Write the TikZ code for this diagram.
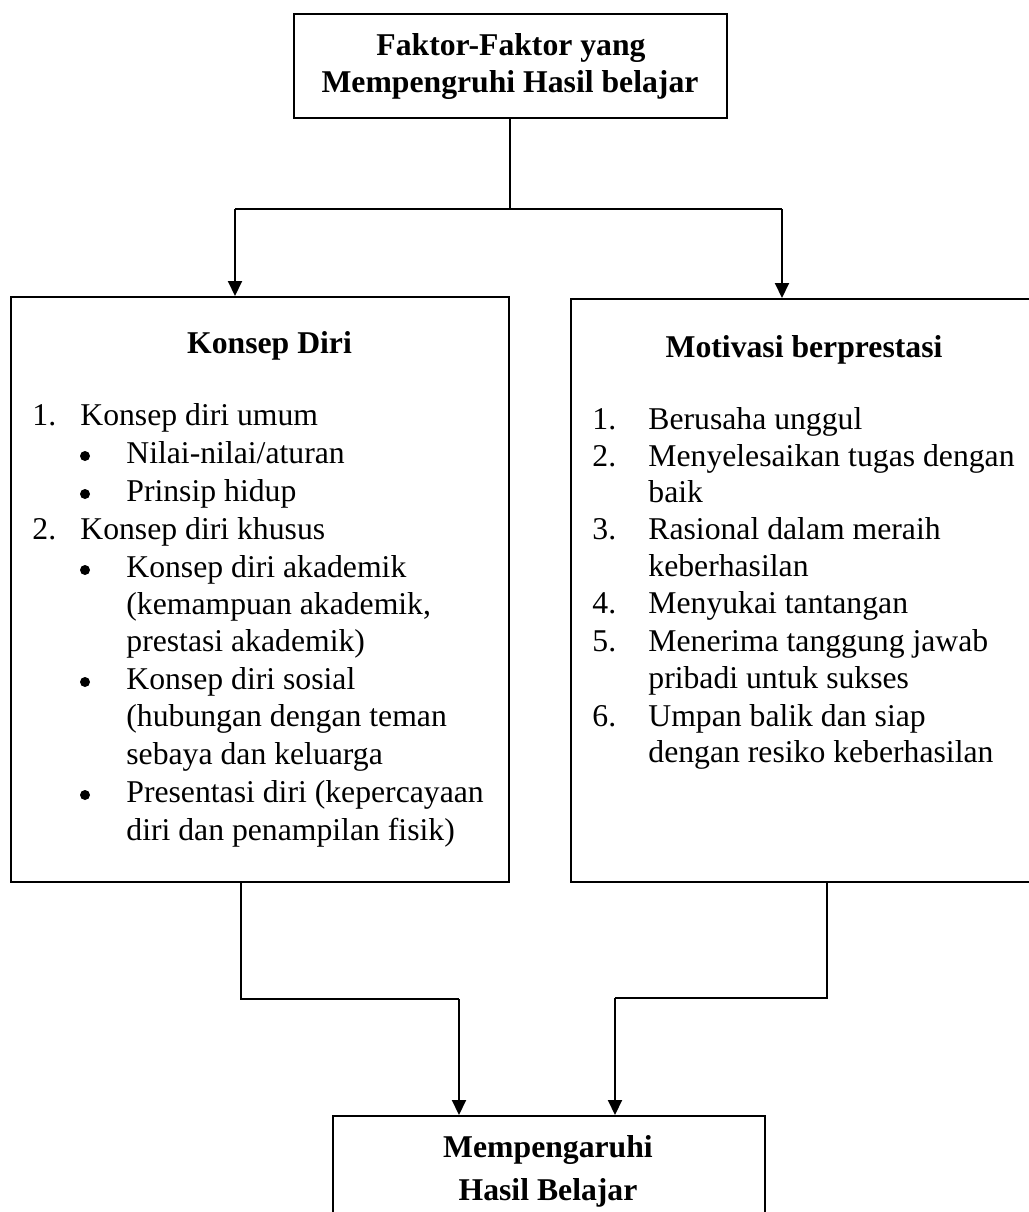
\documentclass[tikz,border=0pt]{standalone}
\usepackage{fontspec}
\setmainfont{Liberation Serif}
\usetikzlibrary{arrows.meta}
\begin{document}
\begin{tikzpicture}[x=0.5pt,y=-0.5pt,
  box/.style={draw,line width=1pt,rectangle,inner sep=0pt},
  line/.style={line width=1pt},
  arr/.style={line width=1pt,-{Triangle[length=7.5pt,width=7pt]}},
  txt/.style={inner sep=0pt,anchor=base west,font=\fontsize{15.85}{18}\selectfont},
  ttl/.style={inner sep=0pt,anchor=base,font=\fontsize{15.85}{18}\selectfont\bfseries},
  bul/.style={circle,fill,inner sep=0pt,minimum size=5pt}]
\useasboundingbox (0,0) rectangle (1029,1212);
\clip (0,0) rectangle (1029,1212);
\fill[white] (0,0) rectangle (1029,1212);
% boxes
\node[box,minimum width=216.5pt,minimum height=52pt] (top) at (510,66) {};
\node[box,minimum width=249pt,minimum height=292.5pt] (left) at (260,589.5) {};
\node[box,minimum width=233pt,minimum height=291.5pt] (right) at (804,590.5) {};
\node[box,minimum width=216pt,minimum height=72pt] (bottom) at (549,1188) {};
% top box text
\node[ttl] (t1) at (511,55) {Faktor-Faktor yang};
\node[ttl] (t2) at (510,92) {Mempengruhi Hasil belajar};
% bottom box text
\node[ttl] (b1) at (548,1157) {Mempengaruhi};
\node[ttl] (b2) at (548,1200) {Hasil Belajar};
% left box
\node[ttl] (lt) at (269.5,353) {Konsep Diri};
\node[txt] (l1n) at (32,425) {1.};
\node[txt] (l1) at (80,425) {Konsep diri umum};
\node[bul] (l2b) at (85,456) {};
\node[txt] (l2) at (126,463) {Nilai-nilai/aturan};
\node[bul] (l3b) at (85,494) {};
\node[txt] (l3) at (126,501) {Prinsip hidup};
\node[txt] (l4n) at (32,539) {2.};
\node[txt] (l4) at (80,539) {Konsep diri khusus};
\node[bul] (l5b) at (85,570) {};
\node[txt] (l5) at (126,577) {Konsep diri akademik};
\node[txt] (l6) at (126,614) {(kemampuan akademik,};
\node[txt] (l7) at (126,651) {prestasi akademik)};
\node[bul] (l8b) at (85,682) {};
\node[txt] (l8) at (126,689) {Konsep diri sosial};
\node[txt] (l9) at (126,726) {(hubungan dengan teman};
\node[txt] (l10) at (126,764) {sebaya dan keluarga};
\node[bul] (l11b) at (85,795) {};
\node[txt] (l11) at (126,802) {Presentasi diri (kepercayaan};
\node[txt] (l12) at (126,840) {diri dan penampilan fisik)};
% right box
\node[ttl] (rt) at (804,357) {Motivasi berprestasi};
\node[txt] (r1n) at (592,429) {1.};
\node[txt] (r1) at (648,429) {Berusaha unggul};
\node[txt] (r2n) at (592,466) {2.};
\node[txt] (r2) at (648,466) {Menyelesaikan tugas dengan};
\node[txt] (r3) at (648,502) {baik};
\node[txt] (r4n) at (592,539) {3.};
\node[txt] (r4) at (648,539) {Rasional dalam meraih};
\node[txt] (r5) at (648,576) {keberhasilan};
\node[txt] (r6n) at (592,613) {4.};
\node[txt] (r6) at (648,613) {Menyukai tantangan};
\node[txt] (r7n) at (592,651) {5.};
\node[txt] (r7) at (648,651) {Menerima tanggung jawab};
\node[txt] (r8) at (648,688) {pribadi untuk sukses};
\node[txt] (r9n) at (592,726) {6.};
\node[txt] (r9) at (648,726) {Umpan balik dan siap};
\node[txt] (r10) at (648,762) {dengan resiko keberhasilan};
% connectors top
\coordinate (hL) at (235,209);
\coordinate (hR) at (782,209);
\draw[line] (top.south) -- (top.south |- hL);
\draw[line] (hL) -- (hR);
\draw[arr] (hL) -- (hL |- left.north);
\draw[arr] (hR) -- (hR |- right.north);
% connectors bottom
\coordinate (cL) at (241,999);
\coordinate (cL2) at (459,999);
\coordinate (cR) at (827,998);
\coordinate (cR2) at (615,998);
\draw[line] (left.south -| cL) -- (cL) -- (cL2);
\draw[arr] (cL2) -- (cL2 |- bottom.north);
\draw[line] (right.south -| cR) -- (cR) -- (cR2);
\draw[arr] (cR2) -- (cR2 |- bottom.north);
\end{tikzpicture}
\end{document}
